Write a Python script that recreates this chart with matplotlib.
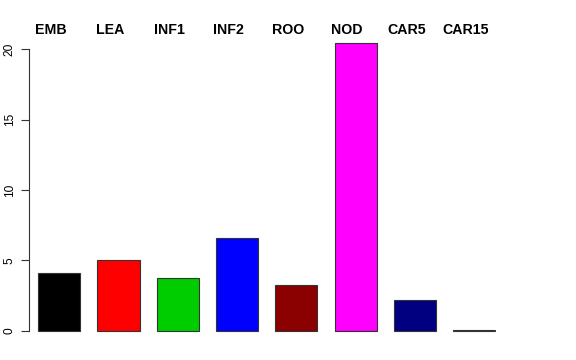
import matplotlib
matplotlib.use("Agg")
import matplotlib.pyplot as plt

# tissue names and values
tissues = ["EMB", "LEA", "INF1", "INF2", "ROO", "NOD", "CAR5", "CAR15"]
values = [4.12, 5.0, 3.75, 6.61, 3.23, 20.47, 2.16, 0.03]
colors = ["#000000", "#FF0000", "#00CD00", "#0000FF", "#8B0000", "#FF00FF", "#000080", "#FFA500"]
yticks = [0, 5, 10, 15, 20]

plt.rcParams["font.family"] = ["Liberation Sans", "DejaVu Sans"]

W, H = 576, 360
fig = plt.figure(figsize=(W / 100, H / 100), dpi=100)

# plot region in pixels, R style (4% padding around data)
left, right = 29, 503.4
top, bottom = 31.1, 342.2
pitch = (right - left) / 8.0
ax = fig.add_axes([left / W, 1 - bottom / H, (right - left) / W, (bottom - top) / H])

x = list(range(len(tissues)))
ax.bar(x, values, width=0.71, color=colors, edgecolor="#333333", linewidth=0.8)

ax.set_xlim(-0.51, 7.49)
ax.set_ylim(-0.82, 20.47 * 1.04)

for s in ["top", "right", "bottom"]:
    ax.spines[s].set_visible(False)
ax.spines["left"].set_bounds(0, 20)
ax.spines["left"].set_color("#333333")
ax.spines["left"].set_linewidth(0.8)

ax.set_xticks([])
ax.set_yticks(yticks)
ax.set_yticklabels([str(v) for v in yticks], rotation=90, va="center", fontsize=8.6)
ax.tick_params(axis="y", length=5.5, width=0.8, color="#333333", pad=4)

# labels above the bars
for i, name in enumerate(tissues):
    xp = left + (i + 0.51) * pitch - 8.5
    fig.text(xp / W, 1 - 34 / H, name, ha="center", va="baseline",
             fontsize=10.2, fontweight="bold")

fig.savefig("out.png", dpi=100)
